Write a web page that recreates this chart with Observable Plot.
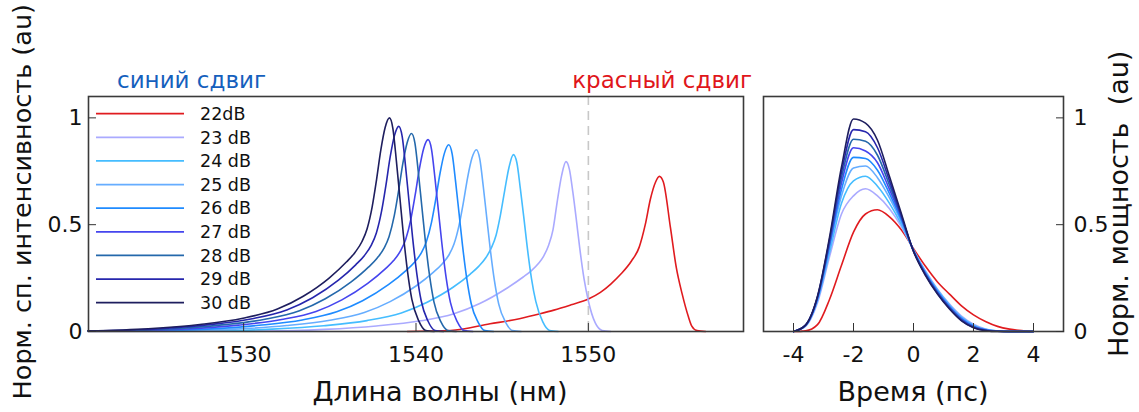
<!DOCTYPE html>
<html><head><meta charset="utf-8">
<script src="https://cdn.jsdelivr.net/npm/d3@7"></script>
<script src="https://cdn.jsdelivr.net/npm/@observablehq/plot@0.6"></script>
<style>
body{margin:0;background:#fff;font-family:"DejaVu Sans",sans-serif;}
#wrap{position:relative;width:1139px;height:412px;overflow:hidden;background:#fff;}
#wrap > svg{position:absolute;top:0;}
</style></head><body><div id="wrap"></div>
<script>
// ---- data ----
const series = ["22dB","23 dB","24 dB","25 dB","26 dB","27 dB","28 dB","29 dB","30 dB"];
const colors = ["#e01b1f","#aaaaff","#45bdff","#66adff","#1f8bff","#4545ee","#2468ab","#2626ad","#1e1e5e"];

// spectra: [wavelength nm, normalized intensity]
const spec22 = [[1539.5,0],[1542,.005],[1544.3,.036],[1546,.06],[1547.2,.083],[1548,.10],[1549,.125],[1550,.152],[1550.7,.183],[1551.3,.222],[1551.9,.27],[1552.5,.33],[1552.95,.395],[1553.3,.5],[1553.6,.62],[1553.9,.70],[1554.12,.726],[1554.35,.70],[1554.76,.487],[1555.1,.30],[1555.44,.176],[1555.8,.07],[1556,.025],[1556.3,.004],[1556.8,0]];
const spec23 = [[1521,0],[1526.7,.001],[1531.2,.002],[1534.7,.01],[1537.7,.026],[1540.2,.049],[1542.2,.083],[1543.7,.131],[1545.2,.199],[1546.2,.254],[1546.7,.285],[1547.1,.318],[1547.4,.352],[1547.7,.405],[1547.95,.477],[1548.2,.612],[1548.45,.731],[1548.7,.795],[1548.9,.759],[1549.1,.652],[1549.3,.525],[1549.5,.39],[1549.75,.246],[1550,.143],[1550.4,.04],[1550.8,.005],[1551.3,0]];
const spec24 = [[1521,.001],[1528.15,.002],[1531.65,.011],[1534.65,.027],[1537.15,.051],[1539.15,.087],[1540.65,.137],[1542.15,.207],[1543.15,.269],[1543.65,.306],[1544.05,.345],[1544.35,.388],[1544.65,.452],[1544.9,.546],[1545.15,.662],[1545.4,.77],[1545.65,.828],[1545.85,.791],[1546.05,.671],[1546.25,.538],[1546.45,.397],[1546.7,.248],[1546.95,.141],[1547.35,.046],[1547.75,.005],[1548.25,0]];
const spec25 = [[1521,.001],[1526,.003],[1529.5,.011],[1532.5,.028],[1535,.053],[1537,.089],[1538.5,.14],[1540,.213],[1541,.277],[1541.5,.315],[1541.9,.357],[1542.2,.408],[1542.5,.498],[1542.75,.604],[1543,.723],[1543.25,.813],[1543.5,.851],[1543.7,.808],[1543.9,.681],[1544.1,.536],[1544.3,.391],[1544.55,.238],[1544.8,.128],[1545.2,.043],[1545.6,.004],[1546.1,0]];
const spec26 = [[1521,.001],[1524.4,.003],[1527.9,.011],[1530.9,.029],[1533.4,.054],[1535.4,.092],[1536.9,.144],[1538.4,.219],[1539.4,.284],[1539.9,.323],[1540.3,.367],[1540.6,.42],[1540.9,.511],[1541.15,.621],[1541.4,.743],[1541.65,.835],[1541.9,.874],[1542.1,.83],[1542.3,.699],[1542.5,.551],[1542.7,.402],[1542.95,.245],[1543.2,.131],[1543.6,.044],[1544,.004],[1544.5,0]];
const spec27 = [[1521,.001],[1523.2,.003],[1526.7,.012],[1529.7,.03],[1532.2,.056],[1534.2,.094],[1535.7,.148],[1537.2,.225],[1538.2,.292],[1538.7,.332],[1539.1,.377],[1539.4,.431],[1539.7,.525],[1539.95,.638],[1540.2,.763],[1540.45,.858],[1540.7,.898],[1540.9,.853],[1541.1,.718],[1541.3,.566],[1541.5,.413],[1541.75,.251],[1542,.135],[1542.4,.045],[1542.8,.004],[1543.3,0]];
const spec28 = [[1521,.002],[1522.24,.003],[1525.74,.012],[1528.74,.031],[1531.24,.057],[1533.24,.097],[1534.74,.153],[1536.24,.232],[1537.24,.301],[1537.74,.343],[1538.14,.389],[1538.44,.445],[1538.74,.542],[1538.99,.658],[1539.24,.788],[1539.49,.885],[1539.74,.927],[1539.94,.881],[1540.14,.742],[1540.34,.584],[1540.54,.426],[1540.79,.26],[1541.04,.139],[1541.44,.046],[1541.84,.005],[1542.34,0]];
const spec29 = [[1521,.002],[1521.5,.003],[1525,.012],[1528,.032],[1530.5,.06],[1532.5,.101],[1534,.158],[1535.5,.24],[1536.5,.312],[1537,.355],[1537.4,.403],[1537.7,.461],[1538,.562],[1538.25,.682],[1538.5,.816],[1538.75,.917],[1539,.96],[1539.2,.912],[1539.4,.768],[1539.6,.605],[1539.8,.442],[1540.05,.269],[1540.3,.144],[1540.7,.048],[1541.1,.005],[1541.6,0]];
const spec30 = [[1520.96,.003],[1524.46,.013],[1527.46,.033],[1529.96,.062],[1531.96,.105],[1533.46,.165],[1534.96,.25],[1535.96,.325],[1536.46,.37],[1536.86,.42],[1537.16,.48],[1537.46,.585],[1537.71,.71],[1537.96,.85],[1538.21,.955],[1538.46,1.0],[1538.66,.95],[1538.86,.80],[1539.06,.63],[1539.26,.46],[1539.51,.28],[1539.76,.15],[1540.16,.05],[1540.56,.005],[1541.06,0]];
const spectra = [spec22,spec23,spec24,spec25,spec26,spec27,spec28,spec29,spec30];

// temporal profiles on a common time grid (ps)
const timeGrid = [-4,-3.6,-3.2,-2.8,-2.4,-2.0,-1.6,-1.2,-0.8,-0.4,0,0.4,0.8,1.2,1.6,2.0,2.4,2.8,3.2,3.6,4.0];
const pulse22 = [0,.003,.032,.15,.31,.465,.55,.57,.537,.475,.388,.305,.232,.175,.12,.078,.047,.024,.011,.004,0];
const pulse23 = [0,.024,.135,.35,.55,.635,.668,.635,.575,.49,.382,.283,.198,.128,.072,.034,.012,.003,0,0,0];
const pulse24 = [0,.026,.145,.37,.60,.705,.727,.68,.60,.50,.381,.279,.194,.124,.067,.03,.01,.002,0,0,0];
const pulse25 = [0,.027,.15,.39,.635,.765,.775,.72,.625,.51,.38,.276,.19,.12,.064,.027,.009,.002,0,0,0];
const pulse26 = [0,.028,.153,.40,.665,.815,.81,.755,.645,.52,.379,.273,.187,.117,.061,.025,.008,.002,0,0,0];
const pulse27 = [0,.029,.157,.41,.695,.86,.845,.79,.665,.53,.378,.27,.184,.114,.058,.023,.007,.001,0,0,0];
const pulse28 = [0,.029,.16,.42,.72,.90,.89,.825,.685,.535,.377,.268,.181,.111,.055,.021,.006,.001,0,0,0];
const pulse29 = [0,.03,.163,.43,.745,.945,.935,.86,.705,.54,.376,.265,.178,.108,.052,.019,.005,.001,0,0,0];
const pulse30 = [0,.03,.165,.44,.77,.995,.975,.895,.725,.55,.375,.262,.175,.105,.05,.018,.004,0,0,0,0];
const pulses = [pulse22,pulse23,pulse24,pulse25,pulse26,pulse27,pulse28,pulse29,pulse30];

const xTicksL = [1530,1540,1550];
const xTicksR = [-4,-2,0,2,4];
const yTicks = [0,0.5,1];
const markerNm = [1550];

// ---- tables ----
const specRows = spectra.flatMap((arr,i)=>arr.map(([x,y])=>({s:series[i],x,y})));
const pulseRows = pulses.flatMap((arr,i)=>arr.map((y,j)=>({s:series[i],x:timeGrid[j],y})));

const fmt = d => String(d);
const common = {
  height: 412, marginTop: 96, marginBottom: 81,
  y: {domain:[0,1.1]},
  color: {domain: series, range: colors},
  style: {fontFamily:"DejaVu Sans", fontSize:"22px", color:"#111", background:"transparent"}
};

const left = Plot.plot({
  ...common,
  width: 760, marginLeft: 88, marginRight: 17,
  x: {domain:[1521,1559]},
  marks: [
    Plot.ruleX(markerNm, {stroke:"#c8c8c8", strokeWidth:1.6, strokeDasharray:"9,6"}),
    Plot.line(specRows, {x:"x", y:"y", z:"s", stroke:"s", curve:"monotone-x", strokeWidth:1.6}),
    Plot.frame({stroke:"#3a3a3a", strokeWidth:1.6}),
    Plot.axisX({ticks:xTicksL, tickSize:-8, tickPadding:23, tickFormat:fmt, label:null, stroke:"#333"}),
    Plot.axisY({ticks:yTicks, tickSize:-8, tickPadding:14, tickFormat:fmt, label:null, stroke:"#333"})
  ]
});
left.style.left = "0px";

const right = Plot.plot({
  ...common,
  width: 379, marginLeft: 3, marginRight: 76,
  x: {domain:[-5,5]},
  marks: [
    Plot.line(pulseRows, {x:"x", y:"y", z:"s", stroke:"s", curve:"monotone-x", strokeWidth:1.6}),
    Plot.frame({stroke:"#3a3a3a", strokeWidth:1.6}),
    Plot.axisX({ticks:xTicksR, tickSize:-8, tickPadding:23, tickFormat:fmt, label:null, stroke:"#333"}),
    Plot.axisY({anchor:"right", ticks:yTicks, tickSize:-8, tickPadding:18, tickFormat:fmt, label:null, stroke:"#333"})
  ]
});
right.style.left = "760px";

const wrap = document.getElementById("wrap");
wrap.appendChild(left);
wrap.appendChild(right);

// ---- overlay texts & legend ----
const ov = d3.select(wrap).append("svg")
  .attr("width",1139).attr("height",412)
  .style("left","0px").style("pointer-events","none")
  .attr("font-family","DejaVu Sans");

ov.append("text").attr("x",117).attr("y",88).attr("font-size",23).attr("fill","#1560bd").text("синий сдвиг");
ov.append("text").attr("x",752).attr("y",88).attr("text-anchor","end").attr("font-size",23).attr("fill","#e0161b").text("красный сдвиг");
ov.append("text").attr("x",440).attr("y",401).attr("text-anchor","middle").attr("font-size",27).attr("fill","#111").text("Длина волны (нм)");
ov.append("text").attr("x",913).attr("y",401).attr("text-anchor","middle").attr("font-size",27).attr("fill","#111").text("Время (пс)");
ov.append("text").attr("transform","translate(31,4) rotate(-90)").attr("text-anchor","end").attr("font-size",25.5).attr("fill","#111").text("Норм. сп. интенсивность (au)");
ov.append("text").attr("transform","translate(1128,357) rotate(-90)").attr("text-anchor","start").attr("font-size",27).attr("fill","#111").attr("xml:space","preserve").style("white-space","pre").text("Норм. мощность  (au)");

const lg = ov.append("g");
series.forEach((s,i)=>{
  const y = 113.7 + i*23.62;
  lg.append("line").attr("x1",96).attr("x2",184).attr("y1",y).attr("y2",y).attr("stroke",colors[i]).attr("stroke-width",1.8);
  lg.append("text").attr("x",200).attr("y",y).attr("dy","0.36em").attr("font-size",17.5).attr("fill","#111").text(s);
});
</script>
</body></html>
